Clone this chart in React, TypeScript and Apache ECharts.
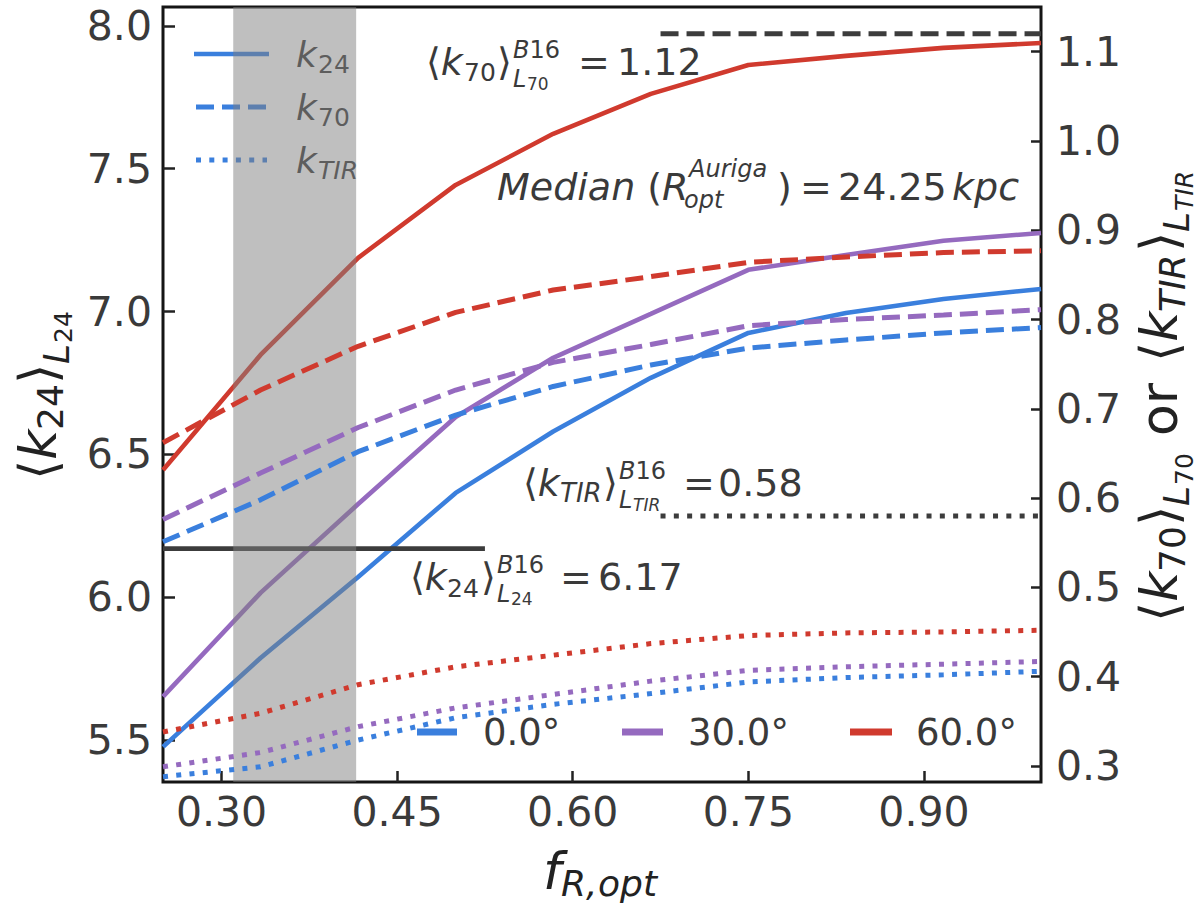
import { useEffect, useRef } from "react";
import * as echarts from "echarts";

// f_R,opt sample points
const fR = [0.25, 0.3333, 0.4167, 0.5, 0.5833, 0.6667, 0.75, 0.8333, 0.9167, 1.0];

// <k24>_L24, left axis
const k24_0 = [5.476, 5.787, 6.071, 6.365, 6.58, 6.768, 6.925, 6.995, 7.044, 7.079];
const k24_30 = [5.652, 6.015, 6.326, 6.631, 6.838, 6.992, 7.146, 7.198, 7.248, 7.275];
const k24_60 = [6.445, 6.848, 7.188, 7.443, 7.622, 7.762, 7.863, 7.895, 7.923, 7.94];

// <k70>_L70, right axis
const k70_0 = [0.551, 0.598, 0.652, 0.693, 0.725, 0.749, 0.768, 0.777, 0.785, 0.791];
const k70_30 = [0.576, 0.628, 0.679, 0.721, 0.752, 0.772, 0.793, 0.8, 0.805, 0.811];
const k70_60 = [0.662, 0.721, 0.77, 0.808, 0.833, 0.848, 0.864, 0.87, 0.875, 0.877];

// <kTIR>_LTIR, right axis
const kTIR_0 = [0.288, 0.299, 0.329, 0.354, 0.369, 0.381, 0.394, 0.399, 0.402, 0.406];
const kTIR_30 = [0.299, 0.315, 0.344, 0.365, 0.38, 0.395, 0.407, 0.411, 0.414, 0.417];
const kTIR_60 = [0.338, 0.359, 0.391, 0.411, 0.424, 0.437, 0.446, 0.449, 0.45, 0.452];

// B16 reference values and where their lines run
const B16_K24 = 6.17;
const B16_K70 = 1.12;
const B16_KTIR = 0.58;
const K24_REF_X = [0.25, 0.525];
const RIGHT_REF_X = [0.675, 1.0];

// shaded band
const BAND = [0.31, 0.415];

const xTicks = [0.3, 0.45, 0.6, 0.75, 0.9];
const leftTicks = [5.5, 6.0, 6.5, 7.0, 7.5, 8.0];
const rightTicks = [0.3, 0.4, 0.5, 0.6, 0.7, 0.8, 0.9, 1.0, 1.1];

const X_MIN = 0.25;
const X_MAX = 1.0;
const L_MIN = 5.353;
const L_MAX = 8.066;
const R_MIN = 0.282;
const R_MAX = 1.15;

const BLUE = "#3a7fdd";
const PURPLE = "#956abf";
const RED = "#d03a2e";
const REF = "#3c3c3c";
const TXT = "#3a3a3a";
const LBL = "#222222";
const FONT = "DejaVu Sans";

const DASH: any = { solid: "solid", dashed: [18, 8], dotted: [5, 8.3] };

const zip = (ys: number[]) => fR.map((x, i) => [x, ys[i]]);

function line(name: string, data: number[][], yAxisIndex: number, color: string, kind: string, z: number) {
  return {
    type: "line",
    name,
    data,
    yAxisIndex,
    z,
    silent: true,
    symbol: "none",
    showSymbol: false,
    lineStyle: { color, width: kind === "solid" ? 4.6 : 5, type: DASH[kind], cap: "butt" },
  };
}

// text placed by its left edge and baseline; parts are [text, italic]
function tr(x: number, base: number, parts: [string, boolean][], fs: number, fill = TXT) {
  const rich: any = {
    i: { fontSize: fs, fontFamily: FONT, fontStyle: "italic", fill },
    n: { fontSize: fs, fontFamily: FONT, fontStyle: "normal", fill },
  };
  return {
    type: "text",
    x,
    y: base - 0.35 * fs,
    silent: true,
    style: {
      text: parts.map(([s, it]) => `{${it ? "i" : "n"}|${s}}`).join(""),
      rich,
      fill,
      fontSize: fs,
      fontFamily: FONT,
      align: "left",
      verticalAlign: "middle",
      textAlign: "left",
      textVerticalAlign: "middle",
    },
  };
}

const t = (x: number, base: number, s: string, fs: number, italic = false, fill = TXT) =>
  tr(x, base, [[s, italic]], fs, fill);

function seg(x1: number, y: number, x2: number, color: string, width: number, dash: any) {
  return {
    type: "line",
    silent: true,
    shape: { x1, y1: y, x2, y2: y },
    style: { stroke: color, lineWidth: width, lineDash: dash === "solid" ? null : dash, lineCap: "butt" },
  };
}

function buildOption() {
  const graphic: any[] = [
    // line-style legend
    seg(194, 54, 269, BLUE, 4.6, DASH.solid),
    seg(196, 107, 267, BLUE, 5, DASH.dashed),
    seg(196, 160, 267, BLUE, 5, DASH.dotted),
    t(296, 67, "k", 36, true),
    t(318, 73, "24", 25),
    t(296, 120, "k", 36, true),
    t(318, 126, "70", 25),
    t(296, 173, "k", 36, true),
    t(318, 179, "TIR", 25, true),

    // angle legend
    seg(417, 732, 457, BLUE, 7, "solid"),
    seg(622, 732, 663, PURPLE, 7, "solid"),
    seg(850, 732, 892, RED, 7, "solid"),
    t(483, 745, "0.0°", 37),
    t(688, 745, "30.0°", 37),
    t(916, 745, "60.0°", 37),

    // <k70>^B16_L70 = 1.12
    tr(426, 75, [["⟨", false], ["k", true]], 38),
    t(464, 81, "70", 25),
    t(497, 75, "⟩", 38),
    tr(513, 58, [["B", true], ["16", false]], 24),
    t(513, 87, "L", 24, true),
    t(527, 90, "70", 17),
    t(578, 75, "=", 38),
    t(617, 75, "1.12", 38),

    // Median(R^Auriga_opt) = 24.25 kpc
    tr(497, 200, [["Median", true], [" (", false], ["R", true]], 38),
    t(689, 177, "Auriga", 24, true),
    t(684, 208, "opt", 24, true),
    t(777, 200, ")", 38),
    t(800, 200, "=", 38),
    t(838, 200, "24.25", 38),
    t(952, 200, "kpc", 38, true),

    // <kTIR>^B16_LTIR = 0.58
    tr(523, 496, [["⟨", false], ["k", true]], 38),
    t(560, 502, "TIR", 26, true),
    t(603, 496, "⟩", 38),
    tr(619, 479, [["B", true], ["16", false]], 24),
    t(619, 508, "L", 24, true),
    t(633, 511, "TIR", 17, true),
    t(683, 496, "=", 38),
    t(718, 496, "0.58", 38),

    // <k24>^B16_L24 = 6.17
    tr(410, 590, [["⟨", false], ["k", true]], 38),
    t(447, 597, "24", 25),
    t(481, 590, "⟩", 38),
    tr(497, 573, [["B", true], ["16", false]], 24),
    t(497, 602, "L", 24, true),
    t(511, 605, "24", 17),
    t(560, 590, "=", 38),
    t(598, 590, "6.17", 38),

    // x axis title
    t(543, 889, "f", 52, true, LBL),
    t(561, 896, "R,", 36, true, LBL),
    t(598, 896, "opt", 36, true, LBL),

    // left axis title
    {
      type: "group",
      x: 0,
      y: 480,
      rotation: Math.PI / 2,
      children: [
        tr(0, 56, [["⟨", false], ["k", true]], 52, LBL),
        t(50, 63, "24", 36, false, LBL),
        t(96, 56, "⟩", 52, false, LBL),
        t(116, 69, "L", 36, true, LBL),
        t(137, 72, "24", 25, false, LBL),
      ],
    },

    // right axis title
    {
      type: "group",
      x: 1120,
      y: 622,
      rotation: Math.PI / 2,
      children: [
        tr(0, 57, [["⟨", false], ["k", true]], 52, LBL),
        t(50, 65, "70", 36, false, LBL),
        t(96, 57, "⟩", 52, false, LBL),
        t(116, 69, "L", 36, true, LBL),
        t(137, 73, "70", 25, false, LBL),
        t(186, 57, "or", 52, false, LBL),
        tr(260, 57, [["⟨", false], ["k", true]], 52, LBL),
        t(310, 65, "TIR", 36, true, LBL),
        t(370, 57, "⟩", 52, false, LBL),
        t(390, 69, "L", 36, true, LBL),
        t(411, 73, "TIR", 25, true, LBL),
      ],
    },
  ];

  const labelStyle = { fontSize: 41, color: TXT, fontFamily: FONT };
  const tickStyle = { color: "#222", width: 2.5 };

  return {
    animation: false,
    backgroundColor: "#ffffff",
    legend: { show: false },
    tooltip: { show: false },
    grid: {
      left: 163,
      top: 7,
      width: 878,
      height: 775,
      show: true,
      borderColor: "#151515",
      borderWidth: 3,
      backgroundColor: "transparent",
    },
    xAxis: {
      type: "value",
      min: X_MIN,
      max: X_MAX,
      axisLine: { show: false },
      splitLine: { show: false },
      axisTick: { show: true, inside: true, length: 11, lineStyle: tickStyle, customValues: xTicks },
      axisLabel: { ...labelStyle, margin: 9, customValues: xTicks, formatter: (v: number) => v.toFixed(2) },
    },
    yAxis: [
      {
        type: "value",
        position: "left",
        min: L_MIN,
        max: L_MAX,
        axisLine: { show: false },
        splitLine: { show: false },
        axisTick: { show: true, inside: true, length: 12, lineStyle: tickStyle, customValues: leftTicks },
        axisLabel: { ...labelStyle, margin: 11, customValues: leftTicks, formatter: (v: number) => v.toFixed(1) },
      },
      {
        type: "value",
        position: "right",
        min: R_MIN,
        max: R_MAX,
        axisLine: { show: false },
        splitLine: { show: false },
        axisTick: { show: true, inside: true, length: 10, lineStyle: tickStyle, customValues: rightTicks },
        axisLabel: { ...labelStyle, margin: 15, customValues: rightTicks, formatter: (v: number) => v.toFixed(1) },
      },
    ],
    series: [
      line("k24 0.0", zip(k24_0), 0, BLUE, "solid", 2),
      line("k24 30.0", zip(k24_30), 0, PURPLE, "solid", 2),
      line("k24 60.0", zip(k24_60), 0, RED, "solid", 2),
      line("k24 B16", K24_REF_X.map((x) => [x, B16_K24]), 0, REF, "solid", 2),
      {
        type: "custom",
        name: "band",
        xAxisIndex: 0,
        yAxisIndex: 0,
        z: 3,
        silent: true,
        data: [[BAND[0], BAND[1]]],
        renderItem: (params: any, api: any) => {
          const x0 = api.coord([api.value(0), L_MIN])[0];
          const x1 = api.coord([api.value(1), L_MIN])[0];
          const cs = params.coordSys;
          return {
            type: "rect",
            shape: { x: x0, y: cs.y, width: x1 - x0, height: cs.height },
            style: { fill: "rgba(128,128,128,0.5)" },
          };
        },
      },
      line("k70 0.0", zip(k70_0), 1, BLUE, "dashed", 4),
      line("k70 30.0", zip(k70_30), 1, PURPLE, "dashed", 4),
      line("k70 60.0", zip(k70_60), 1, RED, "dashed", 4),
      line("kTIR 0.0", zip(kTIR_0), 1, BLUE, "dotted", 4),
      line("kTIR 30.0", zip(kTIR_30), 1, PURPLE, "dotted", 4),
      line("kTIR 60.0", zip(kTIR_60), 1, RED, "dotted", 4),
      line("k70 B16", RIGHT_REF_X.map((x) => [x, B16_K70]), 1, REF, "dashed", 4),
      line("kTIR B16", RIGHT_REF_X.map((x) => [x, B16_KTIR]), 1, REF, "dotted", 4),
    ],
    graphic,
  };
}

export default function App() {
  const chartRef = useRef<HTMLDivElement>(null);

  useEffect(() => {
    document.body.style.margin = "0";
    const chart = echarts.init(chartRef.current, null, { renderer: "svg" });
    chart.setOption(buildOption() as any);
    return () => {
      chart.dispose();
    };
  }, []);

  return <div ref={chartRef} style={{ width: "1200px", height: "918px" }} />;
}
